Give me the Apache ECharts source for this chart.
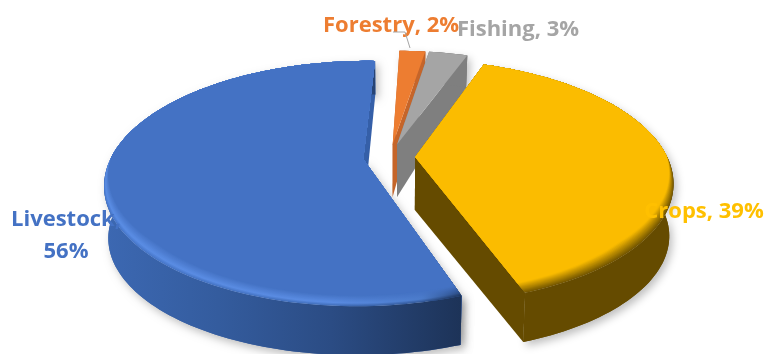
<!DOCTYPE html>
<html>
<head>
<meta charset="utf-8">
<style>html,body{margin:0;padding:0;background:#fff}#chart{width:768px;height:354px}</style>
<script src="https://cdn.jsdelivr.net/npm/echarts@6/dist/echarts.min.js"></script>
</head>
<body>
<div id="chart"></div>
<script>
// Agricultural sectors, listed clockwise from the start angle.
const categories = ['Forestry', 'Fishing', 'Crops', 'Livestock'];
const shares = [2, 3, 39, 56];

// Exploded offset of each slice, in pie radii.
const explode = [0.112, 0.115, 0.1, 0.107];
const startAngle = 2;

const topColors = ['#ED7D31', '#A5A5A5', '#FBBC00', '#4472C4'];
const cutColors = ['#C5652A', '#7F7F7F', '#654B00', '#355FA8'];
const textColors = ['#ED7D31', '#A5A5A5', '#FFC000', '#4472C4'];

// Perspective used for the tilted disc.
const view = { cx: 390, cy: 157, rx: 252, ry: 117, persp: 0.2, bevel: 0.06 };

// Label centres and the Forestry leader line.
const labelCentres = [[391, 26], [518, 30], [704, 212], [66, 236]];
const leaderLine = [[393, 32], [405, 32], [410, 48]];

const lerp = (t, a, b) => echarts.color.lerp(t, [a, b]);
const clamp = (v, a, b) => Math.max(a, Math.min(b, v));

function project(X, Y) {
  const w = 1 - view.persp * Y;
  return [view.cx + view.rx * X / w, view.cy + view.ry * Y / w];
}
// The underside of the disc sits lower and slightly nearer the middle.
function projectBase(X, Y) {
  const p = project(X, Y);
  const drop = Y >= -0.1 ? 53 - 4 * Y : 53 + 22 * (Y + 0.1);
  return [view.cx + (p[0] - view.cx) * 0.985, p[1] + drop];
}

function wallFill(i) {
  const globalH = stops => ({ type: 'linear', x: 105, y: 0, x2: 670, y2: 0, global: true, colorStops: stops });
  if (i === 3) return globalH([
    { offset: 0, color: '#3C68B2' }, { offset: 0.2, color: '#345C9E' },
    { offset: 0.4, color: '#2B4C84' }, { offset: 0.63, color: '#1D3358' }, { offset: 1, color: '#1D3358' }
  ]);
  return cutColors[i];
}

// Colour across the rounded rim: t runs from the outer edge (0) to the flat top (1).
function bevelStops(i, t) {
  if (i === 3) {
    const at = (offset, edge, glow) => ({
      offset,
      color: t < 0.3 ? lerp(t / 0.3, edge, glow) : lerp((t - 0.3) / 0.7, glow, topColors[3])
    });
    return [
      at(0, '#4474C6', '#5A8DE4'), at(0.4, '#3D69B4', '#5A8CE2'),
      at(0.56, '#2E5290', '#4C7CCC'), at(0.63, '#1D3358', '#2C4E88'), at(1, '#1D3358', '#2C4E88')
    ];
  }
  return [
    { offset: 0, color: lerp(t, '#6E5200', topColors[i]) },
    { offset: 1, color: lerp(t, '#6E5200', topColors[i]) }
  ];
}

function renderSlice(params, api) {
  const i = params.dataIndex;
  const total = shares.reduce((a, b) => a + b, 0);
  const before = shares.slice(0, i).reduce((a, b) => a + b, 0);
  const a0 = startAngle + before / total * 360;
  const a1 = a0 + api.value(0) / total * 360;
  const rad = d => d * Math.PI / 180;
  const mid = rad((a0 + a1) / 2);
  const ox = explode[i] * Math.sin(mid);
  const oy = -explode[i] * Math.cos(mid);

  const angles = [];
  const steps = Math.max(4, Math.ceil((a1 - a0) / 1.5));
  for (let k = 0; k <= steps; k++) angles.push(a0 + (a1 - a0) * k / steps);
  const rim = (r, d) => [ox + r * Math.sin(rad(d)), oy - r * Math.cos(rad(d))];
  const top = (r, d) => { const q = rim(r, d); return project(q[0], q[1]); };
  const base = (r, d) => { const q = rim(r, d); return projectBase(q[0], q[1]); };

  const shadow = { shadowBlur: 9, shadowColor: 'rgba(0,0,0,0.26)', shadowOffsetX: 3, shadowOffsetY: 4 };
  const wallPoints = angles.map(d => top(1, d)).concat(angles.slice().reverse().map(d => base(1, d)));
  const cutPoints = d => [top(0, d), top(1, d), base(1, d), base(0, d)];
  const children = [];

  // Soft shadow first, so that it only ever lands behind the slice.
  children.push({ type: 'polygon', silent: true, shape: { points: wallPoints }, style: Object.assign({ fill: cutColors[i] }, shadow) });
  if (i === 3) {
    children.push({ type: 'polygon', silent: true, shape: { points: cutPoints(a0) }, style: Object.assign({ fill: cutColors[i] }, shadow) });
  }
  // Cut faces, then the outer wall, then the flat top.
  [a0, a1].forEach(d => {
    children.push({ type: 'polygon', silent: true, shape: { points: cutPoints(d) }, style: { fill: cutColors[i] } });
  });
  children.push({ type: 'polygon', silent: true, shape: { points: wallPoints }, style: { fill: wallFill(i) } });

  // Rounded rim on the near side of the two large slices, under the flat top.
  const facing = d => clamp((-Math.cos(rad(d)) + 0.02) / 0.7, 0, 1);
  const bevelled = api.value(0) > 10;
  if (bevelled) {
    const bands = 12;
    for (let b = 0; b < bands; b++) {
      const ring = f => angles.map(d => top(1 - view.bevel * facing(d) * f, d));
      children.push({
        type: 'polygon', silent: true,
        shape: { points: [top(0, a0)].concat(ring(b / bands)) },
        style: {
          fill: { type: 'linear', x: 105, y: 0, x2: 670, y2: 0, global: true, colorStops: bevelStops(i, (b + 0.5) / bands) }
        }
      });
    }
  }
  children.push({
    type: 'polygon', silent: true,
    shape: { points: [top(0, a0)].concat(angles.map(d => top(bevelled ? 1 - view.bevel * facing(d) : 1, d))) },
    style: { fill: topColors[i] }
  });
  return { type: 'group', children };
}

function renderLabel(params, api) {
  const i = params.dataIndex;
  const total = shares.reduce((a, b) => a + b, 0);
  const pct = Math.round(api.value(0) / total * 100);
  const text = categories[i] + ',' + (i === 3 ? '\n' : ' ') + pct + '%';
  const children = [{
    type: 'text', silent: true,
    style: {
      text, x: labelCentres[i][0], y: labelCentres[i][1],
      align: 'center', verticalAlign: 'middle', lineHeight: 32,
      font: 'bold 22px "Open Sans"', fill: textColors[i]
    }
  }];
  if (i === 0) {
    children.push({
      type: 'polyline', silent: true,
      shape: { points: leaderLine },
      style: { stroke: '#A5A5A5', lineWidth: 1, fill: null }
    });
  }
  return { type: 'group', children };
}

const chart = echarts.init(document.getElementById('chart'), null, { renderer: 'canvas' });
const rows = shares.map((v, i) => ({ name: categories[i], value: [v] }));
chart.setOption({
  animation: false,
  backgroundColor: '#fff',
  series: [
    { type: 'custom', coordinateSystem: 'none', silent: true, z: 2, renderItem: renderSlice, data: rows },
    { type: 'custom', coordinateSystem: 'none', silent: true, z: 3, renderItem: renderLabel, data: rows }
  ]
});
</script>
</body>
</html>
